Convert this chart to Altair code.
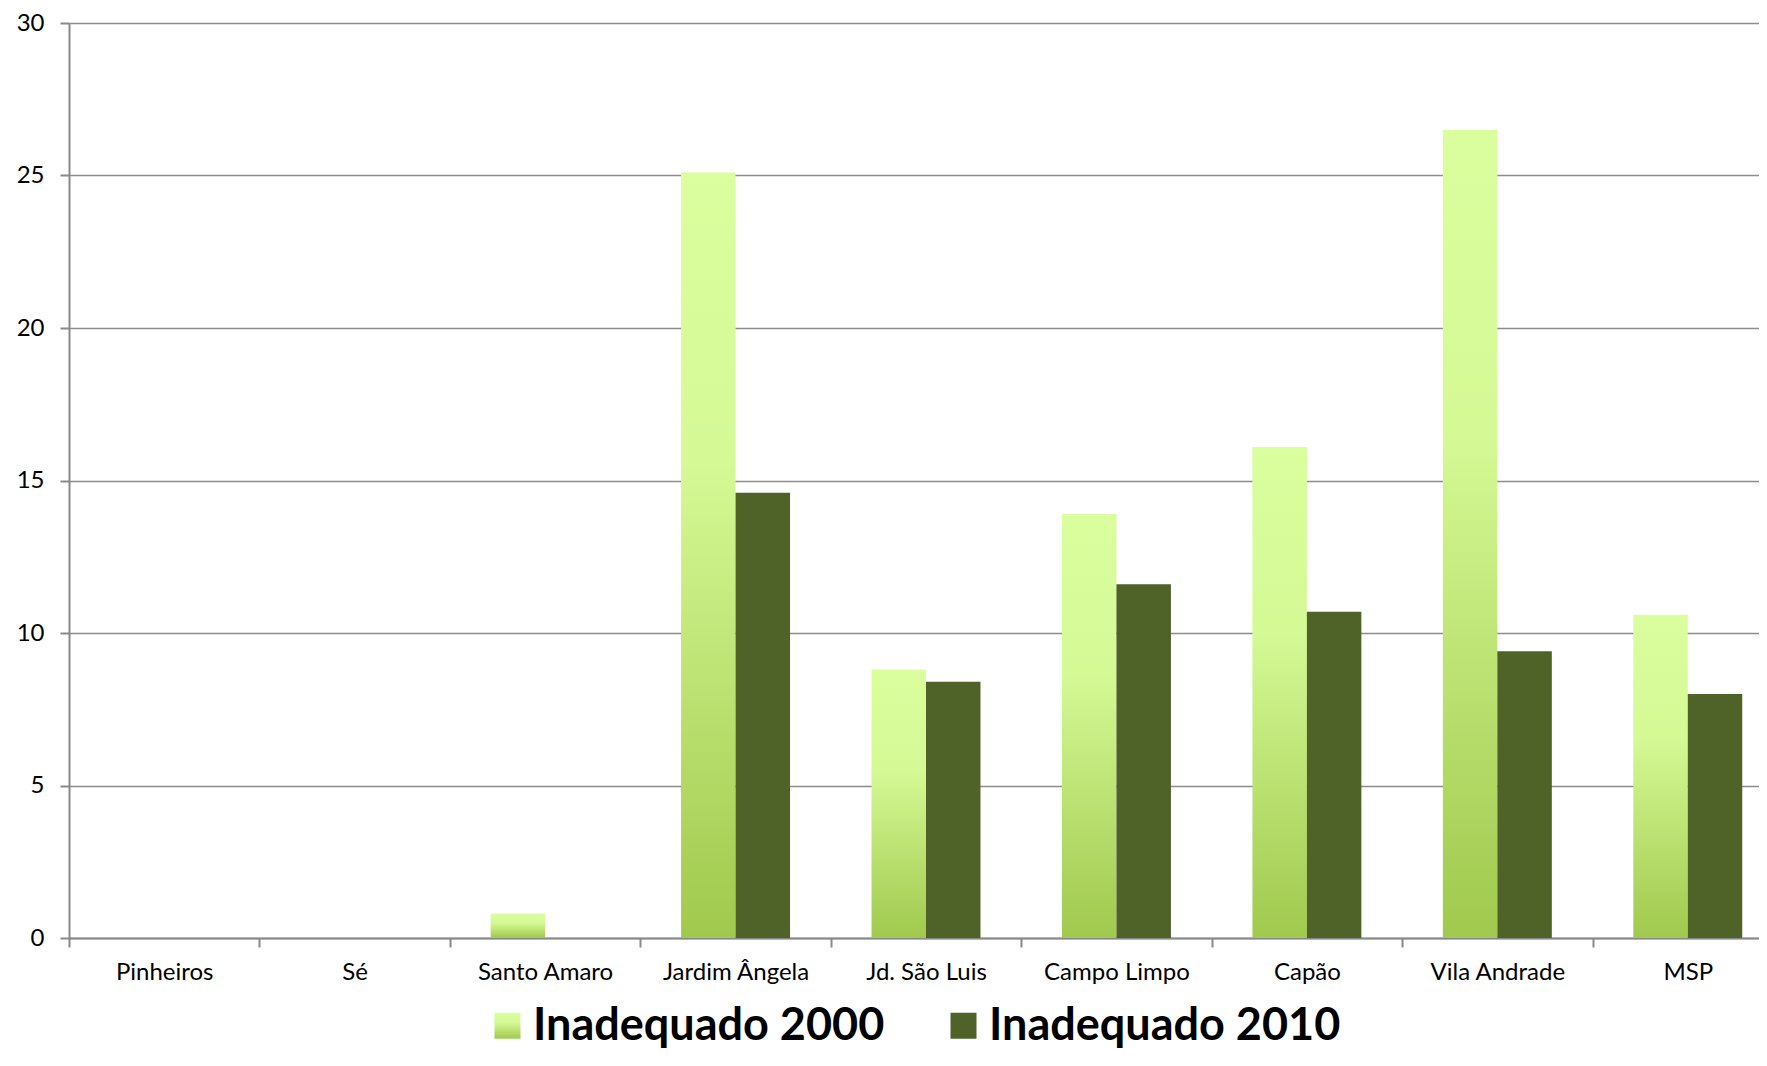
import altair as alt
import pandas as pd

districts = ["Pinheiros", "Sé", "Santo Amaro", "Jardim Ângela", "Jd. São Luis",
             "Campo Limpo", "Capão", "Vila Andrade", "MSP"]
series = ["Inadequado 2000", "Inadequado 2010"]
inad_2000 = [0.0, 0.0, 0.8, 25.1, 8.8, 13.9, 16.1, 26.5, 10.6]
inad_2010 = [0.0, 0.0, 0.0, 14.6, 8.4, 11.6, 10.7, 9.4, 8.0]
y_ticks = [0, 5, 10, 15, 20, 25, 30]

rows = []
for d, a, b in zip(districts, inad_2000, inad_2010):
    rows.append({"District": d, "Series": series[0], "Value": a})
    rows.append({"District": d, "Series": series[1], "Value": b})
df = pd.DataFrame(rows)

grad_expr = ("{gradient: 'linear', x1: 0, y1: 1, x2: 0, y2: 0, stops: ["
             "{offset: 0, color: '#a0c94d'}, {offset: 0.62, color: '#d5f995'}, "
             "{offset: 1, color: '#dbfe9e'}]}")

chart = alt.Chart(df).mark_bar().encode(
    x=alt.X("District:N", sort=districts,
            scale=alt.Scale(domain=districts, range=[0, 1714], paddingInner=0, paddingOuter=0),
            axis=alt.Axis(title=None, labelAngle=0, tickBand="extent", grid=False,
                          domainColor="#898989", domainWidth=2, tickColor="#898989",
                          tickWidth=2, tickSize=9, labelFont="Lato", labelFontSize=24,
                          labelColor="#000000", labelPadding=13)),
    xOffset=alt.XOffset("Series:N", sort=series,
                        scale=alt.Scale(domain=series, paddingInner=0, paddingOuter=0.748)),
    y=alt.Y("Value:Q", scale=alt.Scale(domain=[0, 30]),
            axis=alt.Axis(title=None, values=y_ticks, grid=True, gridColor="#8c8c8c",
                          gridWidth=1.5, domainColor="#898989", domainWidth=2,
                          tickColor="#898989", tickWidth=2, tickSize=9,
                          labelFont="Lato", labelFontSize=24, labelColor="#000000",
                          labelPadding=16)),
    fill=alt.Fill("Series:N", sort=series,
                  scale=alt.Scale(domain=series, range=[{"expr": grad_expr}, "#4f6228"]),
                  legend=alt.Legend(title=None, orient="none", legendX=416, legendY=980,
                                    direction="horizontal", symbolType="square",
                                    symbolSize=676, symbolStrokeWidth=0,
                                    labelFont="Lato", labelFontWeight="bold",
                                    labelFontSize=45, labelColor="#000000", labelOffset=3,
                                    columnPadding=56, padding=0, labelLimit=800)),
).properties(
    width=1690, height=915,
    autosize=alt.AutoSizeParams(type="none"),
    padding={"left": 61, "top": 15, "right": 0, "bottom": 114},
).configure_view(stroke=None)

chart.save("out.html", embed_options={"renderer": "svg", "actions": False})
